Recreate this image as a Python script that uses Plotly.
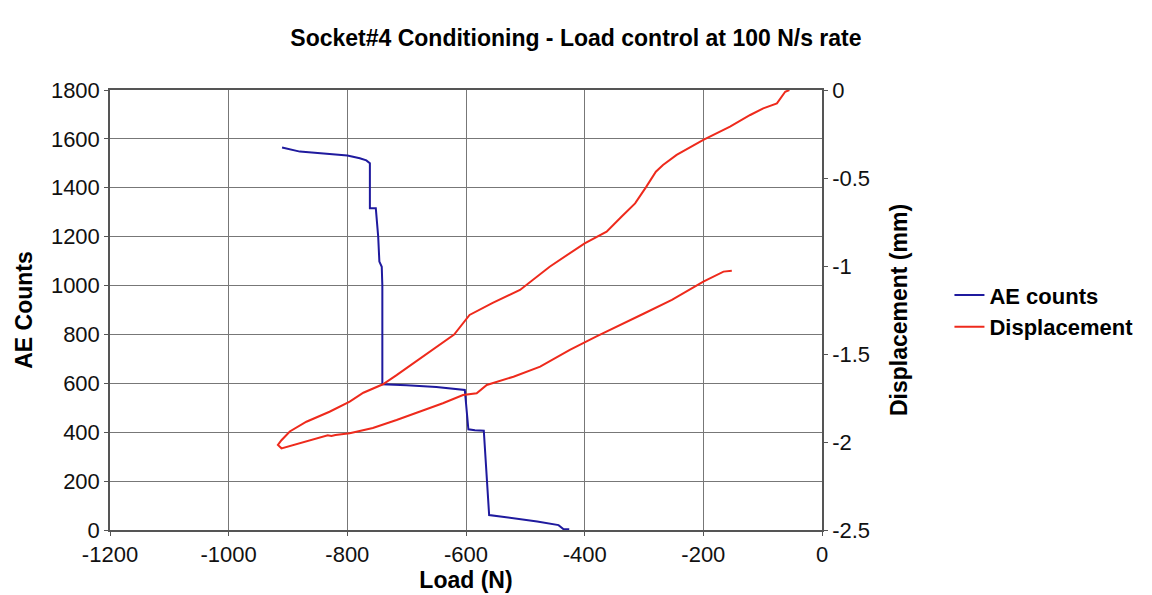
import plotly.graph_objects as go

# AE counts vs load (left axis)
ae_load = [-910, -880, -840, -800, -779, -768, -762, -762, -752, -748, -746, -742, -741, -741,
           -700, -650, -602, -596, -585, -570, -561, -520, -480, -444, -436, -426]
ae_counts = [1565, 1548, 1540, 1532, 1521, 1512, 1500, 1316, 1316, 1200, 1098, 1077, 1000, 596,
             592, 585, 573, 412, 408, 406, 61, 48, 35, 20, 4, 3]

# Displacement vs load (right axis) - lower branch out, upper branch back
disp_load = [-152, -166, -200, -253, -300, -341, -380, -425, -475, -520, -565, -582, -605,
             -639, -678, -717, -757, -796, -820, -827, -833, -847, -880, -905, -911, -917,
             -911, -897, -869, -830, -796, -773, -740, -717, -683, -658, -620, -594, -555,
             -509, -459, -400, -363, -338, -315, -296, -280, -268, -245, -200, -155, -121,
             -99, -76, -62, -55]
disp_mm = [-1.027, -1.032, -1.089, -1.193, -1.27, -1.335, -1.40, -1.477, -1.572, -1.629, -1.676,
           -1.723, -1.733, -1.78, -1.828, -1.875, -1.92, -1.95, -1.96, -1.966, -1.962, -1.975,
           -2.007, -2.03, -2.036, -2.017, -1.99, -1.94, -1.885, -1.828, -1.77, -1.72, -1.672,
           -1.62, -1.54, -1.477, -1.39, -1.278, -1.21, -1.136, -1.004, -0.871, -0.805, -0.72,
           -0.644, -0.549, -0.464, -0.426, -0.369, -0.284, -0.208, -0.142, -0.104, -0.076,
           -0.01, 0.0]

# tick labels (plain hyphen minus, as in the original)
x_ticks = [-1200, -1000, -800, -600, -400, -200, 0]
x_labels = ["-1200", "-1000", "-800", "-600", "-400", "-200", "0"]
y_ticks = [0, 200, 400, 600, 800, 1000, 1200, 1400, 1600, 1800]
y2_ticks = [-2.5, -2, -1.5, -1, -0.5, 0]
y2_labels = ["-2.5", "-2", "-1.5", "-1", "-0.5", "0"]

FONT = "Arial, 'Liberation Sans', sans-serif"
TICK_FONT = dict(family=FONT, size=22, color="#111")
TITLE_FONT = dict(family=FONT, size=23, color="black")

fig = go.Figure()
fig.add_trace(go.Scatter(x=ae_load, y=ae_counts, name="<b>AE counts</b>", mode="lines",
                         line=dict(color="#1f1a9e", width=2)))
fig.add_trace(go.Scatter(x=disp_load, y=disp_mm, name="<b>Displacement</b>", mode="lines",
                         yaxis="y2", line=dict(color="#ee2a1c", width=2)))

axis_common = dict(showline=True, linecolor="#555", linewidth=1.5, zeroline=False,
                   ticks="outside", ticklen=4, tickcolor="#555", automargin=False,
                   tickfont=TICK_FONT)

fig.update_layout(
    width=1152, height=595,
    paper_bgcolor="white", plot_bgcolor="white",
    margin=dict(l=102, r=338, t=82, b=73),
    title=dict(text="<b>Socket#4 Conditioning - Load control at 100 N/s rate</b>",
               x=0.493, xanchor="center", y=0.95, yanchor="middle", font=TITLE_FONT),
    xaxis=dict(range=[-1200, 0], tickvals=x_ticks, ticktext=x_labels,
               showgrid=True, gridcolor="#777", gridwidth=1, mirror=True,
               title=dict(text="<b>Load (N)</b>", standoff=0, font=TITLE_FONT),
               **axis_common),
    yaxis=dict(range=[0, 1800], tickvals=y_ticks,
               showgrid=True, gridcolor="#777", gridwidth=1,
               title=dict(text="<b>AE Counts</b>", standoff=12, font=TITLE_FONT),
               **axis_common),
    yaxis2=dict(range=[-2.5, 0], tickvals=y2_ticks, ticktext=y2_labels,
                overlaying="y", side="right", showgrid=False,
                title=dict(text="<b>Displacement (mm)</b>", standoff=22, font=TITLE_FONT),
                **axis_common),
    legend=dict(x=1.179, y=0.497, xanchor="left", yanchor="middle",
                font=dict(family=FONT, size=22, color="black"),
                bgcolor="rgba(0,0,0,0)", tracegroupgap=0),
    showlegend=True,
)

fig.write_html("out.html")
